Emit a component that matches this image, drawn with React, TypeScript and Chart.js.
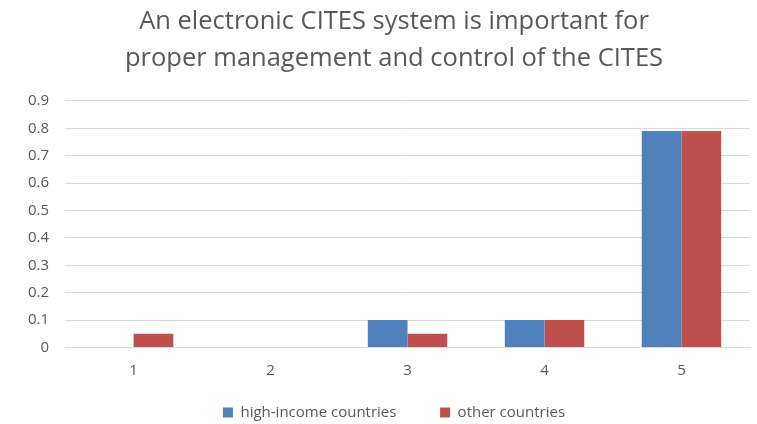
import React, { useEffect, useRef } from "react";
import { Chart, registerables } from "chart.js";

Chart.register(...registerables);

const categories = ["1", "2", "3", "4", "5"];
const highIncome = [0, 0, 0.1, 0.1, 0.79];
const otherCountries = [0.05, 0, 0.05, 0.1, 0.79];
const seriesNames = ["high-income countries", "other countries"];
const titleLines = [
  "An electronic CITES system is important for",
  "proper management and control of the CITES",
];
const FONT = "'Open Sans', sans-serif";

// nudges title and legend so they sit where the original places them
const boxShift = {
  id: "boxShift",
  afterLayout(chart: any) {
    const dx = 13;
    const t = chart.titleBlock;
    if (t) {
      t.left += dx;
      t.right += dx;
    }
    const l = chart.legend;
    if (l) {
      l.left += dx;
      l.right += dx;
      l.top += 7;
      l.bottom += 7;
    }
  },
};

export default function App() {
  const ref = useRef<HTMLCanvasElement>(null);
  useEffect(() => {
    document.body.style.margin = "0";
    const chart = new Chart(ref.current!, {
      type: "bar",
      data: {
        labels: categories,
        datasets: [
          {
            label: seriesNames[0],
            data: highIncome,
            backgroundColor: "#4f81bd",
            barPercentage: 1,
            categoryPercentage: 0.58,
          },
          {
            label: seriesNames[1],
            data: otherCountries,
            backgroundColor: "#c0504d",
            barPercentage: 1,
            categoryPercentage: 0.58,
          },
        ],
      },
      plugins: [boxShift],
      options: {
        animation: false,
        responsive: false,
        layout: { padding: { left: 12, right: 7, top: 3, bottom: 1 } },
        plugins: {
          title: {
            display: true,
            text: titleLines,
            color: "#595959",
            font: { family: FONT, size: 25.5, weight: "normal", lineHeight: 1.45 },
            padding: { top: 0, bottom: 24 },
          },
          legend: {
            position: "bottom",
            labels: {
              boxWidth: 10,
              boxHeight: 10,
              color: "#595959",
              font: { family: FONT, size: 15 },
              padding: 12.5,
              generateLabels: (c: any) => {
                const items = Chart.defaults.plugins.legend.labels.generateLabels(c);
                if (items[0]) items[0].text = items[0].text + "        ";
                return items;
              },
            },
          },
          tooltip: { enabled: false },
        },
        scales: {
          x: {
            grid: { display: false },
            border: { color: "#d9d9d9" },
            ticks: { color: "#595959", font: { family: FONT, size: 15 }, padding: 6 },
          },
          y: {
            min: 0,
            max: 0.9,
            ticks: {
              stepSize: 0.1,
              color: "#595959",
              font: { family: FONT, size: 15 },
              padding: 16,
            },
            grid: { color: "#d9d9d9", drawTicks: false },
            border: { display: false },
          },
        },
      },
    });
    return () => chart.destroy();
  }, []);
  return <canvas ref={ref} width={757} height={424} style={{ display: "block" }} />;
}
